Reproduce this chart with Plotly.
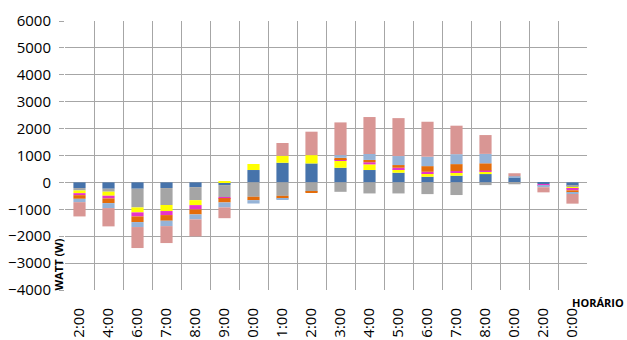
import plotly.graph_objects as go

# Hour labels along the horizontal axis (one bar per reading)
categories = ["2:00", "4:00", "6:00", "7:00", "8:00", "9:00", "0:00", "1:00", "2:00",
              "3:00", "4:00", "5:00", "6:00", "7:00", "8:00", "0:00", "2:00", "0:00"]

# Power per load group, in watts (positive = supplied, negative = consumed)
blue = [-210, -235, -235, -210, -175, -100, 460, 730, 705, 545, 460, 360, 210, 250, 310, 175, -60, -125]
grey = [-90, -110, -695, -630, -485, -445, -535, -500, -350, -350, -410, -410, -435, -470, -100, -70, 0, -50]
yellow = [-100, -150, -185, -225, -185, 50, 225, 260, 310, 260, 210, 125, 125, 110, 90, 25, 0, -60]
magenta = [-75, -100, -150, -150, -160, -40, 0, 0, 0, 50, 80, 60, 60, 60, 40, 0, -70, -60]
orange = [-135, -175, -210, -210, -185, -160, -125, -100, -45, 60, 85, 100, 210, 260, 270, 0, 0, -75]
light_blue = [-125, -185, -185, -200, -185, -185, -125, -40, 0, 100, 220, 335, 350, 370, 350, 30, -50, -60]
pink = [-530, -680, -780, -630, -630, -400, 0, 475, 870, 1215, 1375, 1410, 1300, 1058, 700, 110, -190, -360]

y_ticks = list(range(-4000, 6001, 1000))

series = [
    (blue, "#4673AB"),
    (grey, "#A5A5A5"),
    (yellow, "#FFFF00"),
    (magenta, "#E633C8"),
    (orange, "#E46C0A"),
    (light_blue, "#95B3D7"),
    (pink, "#D99694"),
]

x = list(range(len(categories)))
boundaries = [i - 0.5 for i in range(len(categories) + 1)]

fig = go.Figure()
for values, color in series:
    fig.add_trace(go.Bar(x=x, y=values, marker=dict(color=color, line=dict(width=0)),
                         width=0.42, showlegend=False))

font = dict(family="Open Sans, Liberation Sans, sans-serif", size=15, color="#000000")
title_font = dict(family="Open Sans, Liberation Sans, sans-serif", size=11, color="#000000")

fig.update_layout(
    width=627, height=340,
    margin=dict(l=65, r=40, t=21, b=50),
    barmode="relative",
    plot_bgcolor="white", paper_bgcolor="white",
    font=font,
    xaxis=dict(
        range=[-0.5, len(categories) - 0.5],
        tickmode="array", tickvals=x, ticktext=categories,
        tickangle=-90, showgrid=False, zeroline=False,
        ticks="", showline=False, automargin=False,
        ticklabelstandoff=14,
        tickfont=font,
        minor=dict(tickmode="array", tickvals=boundaries, showgrid=True,
                   gridcolor="#A6A6A6", gridwidth=1, ticks=""),
    ),
    yaxis=dict(
        range=[-4000, 6000],
        tickmode="array", tickvals=y_ticks,
        showgrid=True, gridcolor="#A6A6A6", gridwidth=1,
        zeroline=False, showline=False, automargin=False,
        ticks="outside", ticklen=5, tickcolor="#A6A6A6",
        ticklabelstandoff=5,
        tickfont=font,
    ),
    annotations=[
        dict(text="<b>WATT (W)</b>", xref="paper", yref="paper", x=-0.012, y=-0.01,
             xanchor="center", yanchor="bottom", textangle=-90, showarrow=False,
             font=title_font),
        dict(text="<b>HORÁRIO</b>", xref="paper", yref="paper", x=1.075, y=-0.01,
             xanchor="right", yanchor="top", showarrow=False,
             font=title_font),
    ],
)

fig.write_html("out.html")
